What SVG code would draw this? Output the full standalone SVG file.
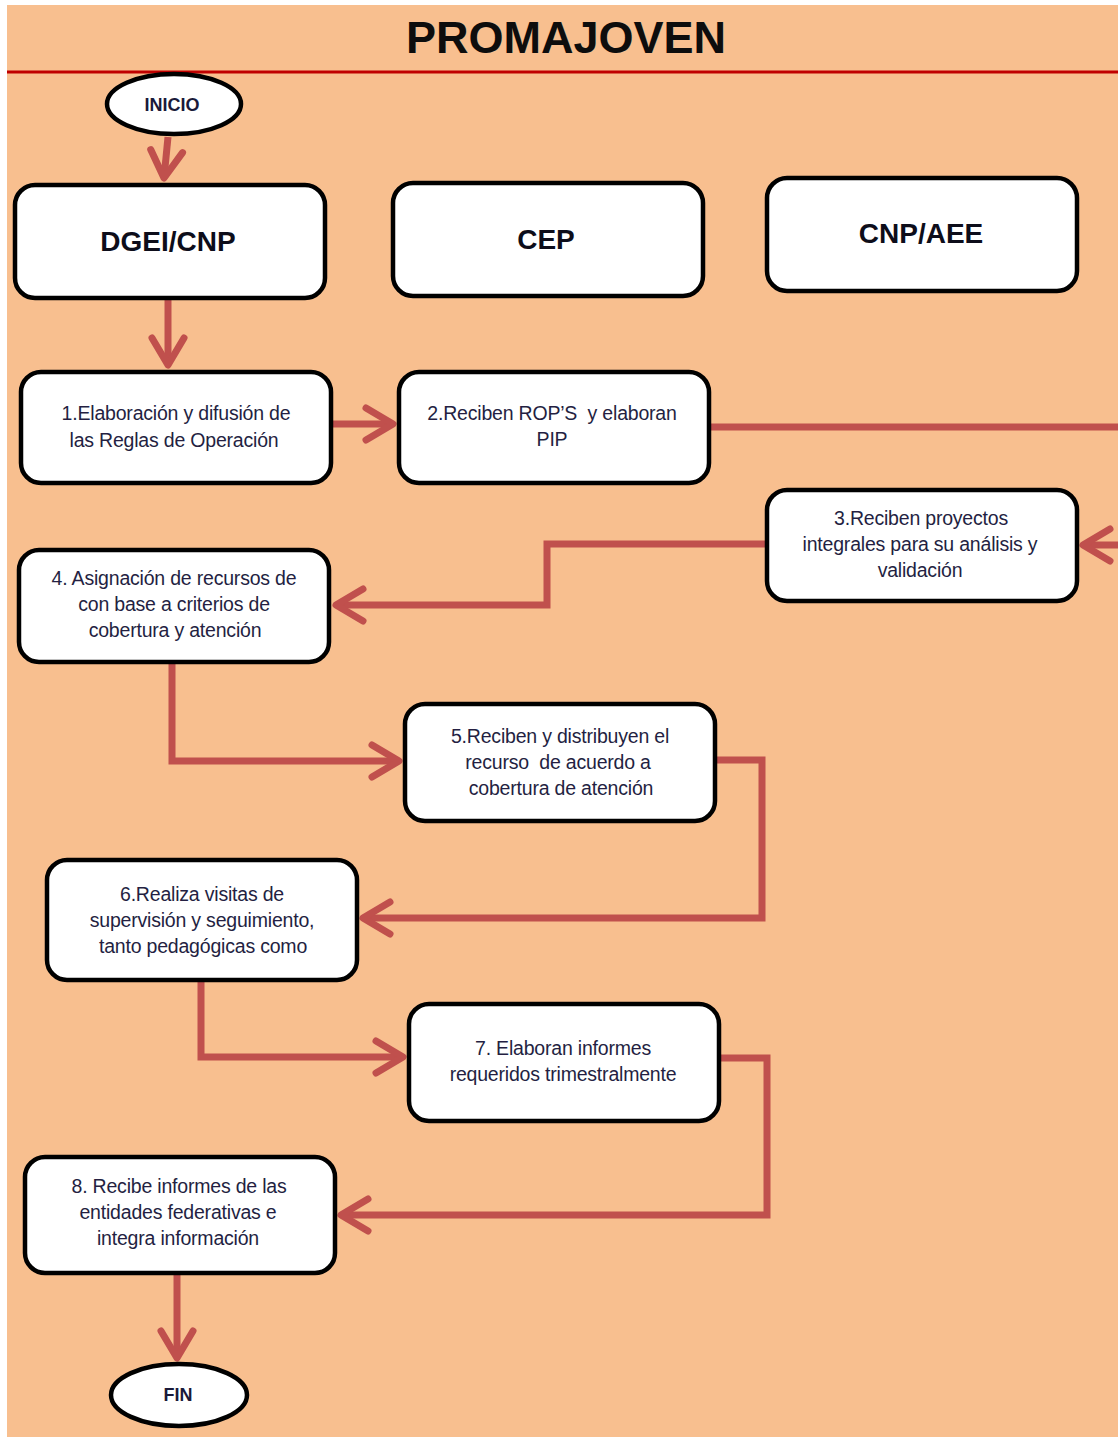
<svg xmlns="http://www.w3.org/2000/svg" width="1118" height="1437" viewBox="0 0 1118 1437">
  <style>
    .box { fill: #ffffff; stroke: #000000; stroke-width: 4.5; }
    .lane { font-family: "Liberation Sans", Arial, sans-serif; font-weight: bold; font-size: 28px; fill: #0d0d1a; text-anchor: middle; }
    .term { font-family: "Liberation Sans", Arial, sans-serif; font-weight: bold; font-size: 18px; fill: #1a1a3a; text-anchor: middle; }
    .txt { font-family: "Liberation Sans", Arial, sans-serif; font-size: 19.5px; fill: #241f42; text-anchor: middle; letter-spacing: -0.2px; }
    .conn { fill: none; stroke: #C0504D; stroke-width: 7; stroke-linejoin: miter; marker-end: url(#arrow); }
  </style>
  <defs>
    <marker id="arrow" markerUnits="userSpaceOnUse" viewBox="-34 -22 40 44" refX="0" refY="0" markerWidth="40" markerHeight="44" orient="auto" overflow="visible">
      <path d="M-27,-16 L0,0 L-27,16" fill="none" stroke="#C0504D" stroke-width="7" stroke-linecap="round" stroke-linejoin="round"/>
    </marker>
  </defs>

  <rect x="0" y="0" width="1118" height="1437" fill="#ffffff"/>
  <rect x="7" y="5" width="1111" height="1432" fill="#F8BF8F"/>
  <line x1="7" y1="72" x2="1118" y2="72" stroke="#C00000" stroke-width="3"/>
  <text x="566" y="53" font-family="Liberation Sans, Arial, sans-serif" font-weight="bold" font-size="45" fill="#0d0d0d" text-anchor="middle">PROMAJOVEN</text>

  <g id="connectors">
    <path class="conn" d="M168,137 L164,178"/>
    <path class="conn" d="M168,300 L168,365"/>
    <path class="conn" d="M333,424 L393,424"/>
    <path class="conn" d="M711,427 L1124,427 L1124,545 L1083,545"/>
    <path class="conn" d="M765,544 L547,544 L547,605 L336,605"/>
    <path class="conn" d="M172,664 L172,761 L399,761"/>
    <path class="conn" d="M717,760 L762,760 L762,918 L363,918"/>
    <path class="conn" d="M201,982 L201,1057 L403,1057"/>
    <path class="conn" d="M721,1058 L767,1058 L767,1215 L341,1215"/>
    <path class="conn" d="M177,1275 L177,1358"/>
  </g>

  <g id="inicio">
    <ellipse cx="174" cy="104" rx="67" ry="30" fill="#ffffff" stroke="#000000" stroke-width="4.5"/>
    <text class="term" x="172" y="110.5">INICIO</text>
  </g>

  <g id="lane-dgei">
    <rect class="box" x="15" y="185" width="310" height="113" rx="20"/>
    <text class="lane" x="168" y="251">DGEI/CNP</text>
  </g>
  <g id="lane-cep">
    <rect class="box" x="393" y="183" width="310" height="113" rx="20"/>
    <text class="lane" x="546" y="249">CEP</text>
  </g>
  <g id="lane-cnp">
    <rect class="box" x="767" y="178" width="310" height="113" rx="20"/>
    <text class="lane" x="921" y="243">CNP/AEE</text>
  </g>

  <g id="step1">
    <rect class="box" x="21" y="372" width="310" height="111" rx="20"/>
    <text class="txt" x="176" y="420">1.Elaboración y difusión de</text>
    <text class="txt" x="174" y="447">las Reglas de Operación</text>
  </g>
  <g id="step2">
    <rect class="box" x="399" y="372" width="310" height="111" rx="20"/>
    <text class="txt" x="552" y="420" xml:space="preserve">2.Reciben ROP’S  y elaboran</text>
    <text class="txt" x="552" y="446">PIP</text>
  </g>
  <g id="step3">
    <rect class="box" x="767" y="490" width="310" height="111" rx="20"/>
    <text class="txt" x="921" y="525">3.Reciben proyectos</text>
    <text class="txt" x="920" y="551">integrales para su análisis y</text>
    <text class="txt" x="920" y="577">validación</text>
  </g>
  <g id="step4">
    <rect class="box" x="19" y="550" width="310" height="112" rx="20"/>
    <text class="txt" x="174" y="585">4. Asignación de recursos de</text>
    <text class="txt" x="174" y="611">con base a criterios de</text>
    <text class="txt" x="175" y="637">cobertura y atención</text>
  </g>
  <g id="step5">
    <rect class="box" x="405" y="704" width="310" height="117" rx="20"/>
    <text class="txt" x="560" y="743">5.Reciben y distribuyen el</text>
    <text class="txt" x="558" y="769" xml:space="preserve">recurso  de acuerdo a</text>
    <text class="txt" x="561" y="795">cobertura de atención</text>
  </g>
  <g id="step6">
    <rect class="box" x="47" y="860" width="310" height="120" rx="20"/>
    <text class="txt" x="202" y="901">6.Realiza visitas de</text>
    <text class="txt" x="202" y="927">supervisión y seguimiento,</text>
    <text class="txt" x="203" y="953">tanto pedagógicas como</text>
  </g>
  <g id="step7">
    <rect class="box" x="409" y="1004" width="310" height="117" rx="20"/>
    <text class="txt" x="563" y="1055">7. Elaboran informes</text>
    <text class="txt" x="563" y="1081">requeridos trimestralmente</text>
  </g>
  <g id="step8">
    <rect class="box" x="25" y="1157" width="310" height="116" rx="20"/>
    <text class="txt" x="179" y="1193">8. Recibe informes de las</text>
    <text class="txt" x="178" y="1219">entidades federativas e</text>
    <text class="txt" x="178" y="1245">integra información</text>
  </g>

  <g id="fin">
    <ellipse cx="179" cy="1395" rx="68" ry="31" fill="#ffffff" stroke="#000000" stroke-width="4.5"/>
    <text class="term" x="178" y="1401">FIN</text>
  </g>
</svg>
